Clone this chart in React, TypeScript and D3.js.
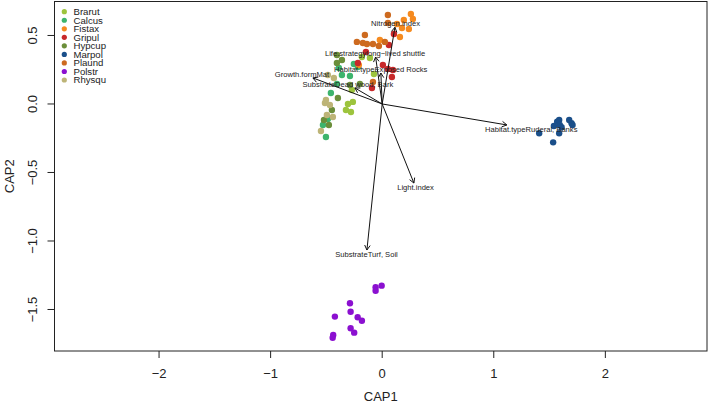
import React, { useMemo } from 'react';
import * as d3 from 'd3';

// ---- data (CAP1, CAP2 scores) ----
const speciesNames = ['Brarut', 'Calcus', 'Fistax', 'Gripul', 'Hypcup', 'Marpol', 'Plaund', 'Polstr', 'Rhysqu'];
const speciesColors = ['#9dc43d', '#3db46d', '#f58a1f', '#c8282a', '#6b8e3a', '#1a4f8a', '#cd6a1f', '#8b10d0', '#bdb477'];

const brarut: [number, number][] = [
  [-0.11, 0.336], [-0.074, 0.219], [-0.182, 0.343], [-0.263, 0.015], [-0.307, 0.0],
  [-0.325, -0.044], [-0.28, -0.058], [-0.272, 0.102],
];
const calcus: [number, number][] = [
  [-0.254, 0.292], [-0.388, 0.263], [-0.361, 0.212], [-0.289, 0.204], [-0.218, 0.27],
  [-0.406, 0.146], [-0.46, 0.08], [-0.487, -0.109], [-0.531, -0.153], [-0.504, -0.241],
];
const fistax: [number, number][] = [
  [0.257, 0.657], [0.275, 0.62], [0.239, 0.547], [0.177, 0.555], [0.132, 0.584],
  [0.194, 0.613], [-0.021, 0.467], [-0.209, 0.285], [0.159, 0.489],
];
const gripul: [number, number][] = [
  [0.105, 0.511], [-0.218, 0.299], [-0.146, 0.38], [0.006, 0.285], [0.051, 0.255],
  [0.096, 0.248], [0.087, 0.197], [-0.092, 0.117], [0.06, 0.431],
];
const hypcup: [number, number][] = [
  [-0.406, 0.358], [-0.361, 0.321], [-0.406, 0.299], [-0.289, 0.139], [-0.397, 0.044],
  [-0.451, -0.044], [-0.522, -0.117], [-0.478, -0.153], [-0.2, 0.146],
];
const marpol: [number, number][] = [
  [1.407, -0.214], [1.532, -0.28], [1.539, -0.161], [1.568, -0.129], [1.586, -0.117],
  [1.592, -0.153], [1.608, -0.17], [1.586, -0.214], [1.676, -0.117], [1.697, -0.141], [1.706, -0.153],
];
const plaund: [number, number][] = [
  [-0.155, 0.504], [-0.227, 0.453], [-0.173, 0.445], [-0.137, 0.438], [-0.083, 0.438],
  [-0.03, 0.423], [0.024, 0.453], [0.051, 0.65], [0.051, 0.591], [-0.083, 0.161],
];
const polstr: [number, number][] = [
  [-0.005, -1.326], [-0.059, -1.338], [-0.059, -1.363], [-0.289, -1.455], [-0.283, -1.516],
  [-0.424, -1.552], [-0.22, -1.557], [-0.182, -1.582], [-0.283, -1.637], [-0.251, -1.669],
  [-0.439, -1.686], [-0.444, -1.706],
];
const rhysqu: [number, number][] = [
  [-0.487, 0.212], [-0.433, 0.19], [-0.513, 0.007], [-0.469, -0.007], [-0.496, -0.08],
  [-0.442, -0.095], [-0.549, -0.197], [-0.504, 0.029],
];
const speciesScores = [brarut, calcus, fistax, gripul, hypcup, marpol, plaund, polstr, rhysqu];

const envLabels = [
  'Growth.formMat',
  'SubstrateDead wood, Bark',
  'Habitat.typeExposed Rocks',
  'Life.strategylong\u2212lived shuttle',
  'Nitrogen.index',
  'Habitat.typeRuderal, Banks',
  'Light.index',
  'SubstrateTurf, Soil',
];
const envCAP1 = [-0.621, -0.245, -0.012, -0.059, 0.114, 1.117, 0.284, -0.137];
const envCAP2 = [0.19, 0.117, 0.226, 0.343, 0.56, -0.153, -0.577, -1.066];

const xTicks = [-2, -1, 0, 1, 2];
const yTicks = [-1.5, -1.0, -0.5, 0.0, 0.5];

// ---- layout ----
const W = 709;
const H = 406;
const L = 54.5, R = 707, T = 1.5, B = 351;
const FONT = '"Liberation Sans", Arial, Helvetica, sans-serif';
const LABEL_FS = 7.6;

const fmt = (v: number, digits: number) => {
  const s = v.toFixed(digits);
  return s.startsWith('-') ? '\u2212' + s.slice(1) : s;
};

export default function App() {
  const x = d3.scaleLinear().domain([-2.937, 2.911]).range([L, R]);
  const y = d3.scaleLinear().domain([-1.803, 0.748]).range([B, T]);

  const measure = useMemo(() => {
    const c = document.createElement('canvas');
    const ctx = c.getContext('2d');
    return (s: string, fs: number) => {
      if (!ctx) return s.length * fs * 0.5;
      ctx.font = `${fs}px ${FONT}`;
      return ctx.measureText(s).width;
    };
  }, []);

  const kx = (x(1) - x(0));
  const ky = (y(0) - y(1));

  // label placement similar to vegan::ordiArrowTextXY
  const labelPos = (ax: number, ay: number, lab: string) => {
    const w = measure(lab, LABEL_FS) / kx;
    const h = (LABEL_FS * 0.72) / ky;
    const b = ay / ax;
    let ox = Math.sign(ax) * (w / 2 + h / 4);
    let oy = 0.75 * h * Math.sign(ay);
    const move = oy / b;
    if (isFinite(move) && Math.abs(move) <= Math.abs(ox)) ox = move;
    else oy = b * ox;
    return [ax + ox, ay + oy];
  };

  const arrowHead = (x0: number, y0: number, x1: number, y1: number) => {
    const ang = Math.atan2(y1 - y0, x1 - x0);
    const len = 5.5;
    const a = Math.PI / 6;
    const p1 = [x1 - len * Math.cos(ang - a), y1 - len * Math.sin(ang - a)];
    const p2 = [x1 - len * Math.cos(ang + a), y1 - len * Math.sin(ang + a)];
    return `M${p1[0]},${p1[1]}L${x1},${y1}L${p2[0]},${p2[1]}`;
  };

  return (
    <svg width={W} height={H} style={{ position: 'absolute', left: 0, top: 0, background: '#fff' }} fontFamily={FONT}>
      <rect x={0} y={0} width={W} height={H} fill="#fff" />
      {/* points */}
      {speciesScores.map((pts, i) =>
        pts.map((p, j) => (
          <circle key={`${i}-${j}`} cx={x(p[0])} cy={y(p[1])} r={3.2} fill={speciesColors[i]} />
        ))
      )}
      {/* arrows */}
      {envLabels.map((lab, i) => {
        const x0 = x(0), y0 = y(0), x1 = x(envCAP1[i]), y1 = y(envCAP2[i]);
        return (
          <g key={lab} stroke="#111" strokeWidth={1} fill="none">
            <line x1={x0} y1={y0} x2={x1} y2={y1} />
            <path d={arrowHead(x0, y0, x1, y1)} />
          </g>
        );
      })}
      {envLabels.map((lab, i) => {
        const [lx, ly] = labelPos(envCAP1[i], envCAP2[i], lab);
        return (
          <text key={lab} x={x(lx)} y={y(ly)} dy="0.35em" textAnchor="middle" fontSize={LABEL_FS} fill="#222">
            {lab}
          </text>
        );
      })}
      {/* box */}
      <rect x={L} y={T} width={R - L} height={B - T} fill="none" stroke="#222" strokeWidth={1} />
      {/* x axis */}
      {xTicks.map((t) => (
        <g key={`x${t}`}>
          <line x1={x(t)} x2={x(t)} y1={B} y2={B + 7} stroke="#222" />
          <text x={x(t)} y={373} dy="0.35em" textAnchor="middle" fontSize={13} fill="#222">
            {fmt(t, 0)}
          </text>
        </g>
      ))}
      <text x={(L + R) / 2} y={396.5} dy="0.35em" textAnchor="middle" fontSize={13} fill="#222">CAP1</text>
      {/* y axis */}
      {yTicks.map((t) => (
        <g key={`y${t}`}>
          <line x1={L - 7} x2={L} y1={y(t)} y2={y(t)} stroke="#222" />
          <text
            transform={`translate(32,${y(t)}) rotate(-90)`}
            dy="0.35em"
            textAnchor="middle"
            fontSize={13}
            fill="#222"
          >
            {fmt(t, 1)}
          </text>
        </g>
      ))}
      <text transform={`translate(9,${(T + B) / 2}) rotate(-90)`} dy="0.35em" textAnchor="middle" fontSize={13} fill="#222">
        CAP2
      </text>
      {/* legend */}
      {speciesNames.map((s, i) => (
        <g key={s}>
          <circle cx={64.3} cy={11.7 + i * 8.54} r={2.6} fill={speciesColors[i]} />
          <text x={73.5} y={11.7 + i * 8.54} dy="0.35em" fontSize={9.6} fill="#222">{s}</text>
        </g>
      ))}
    </svg>
  );
}
